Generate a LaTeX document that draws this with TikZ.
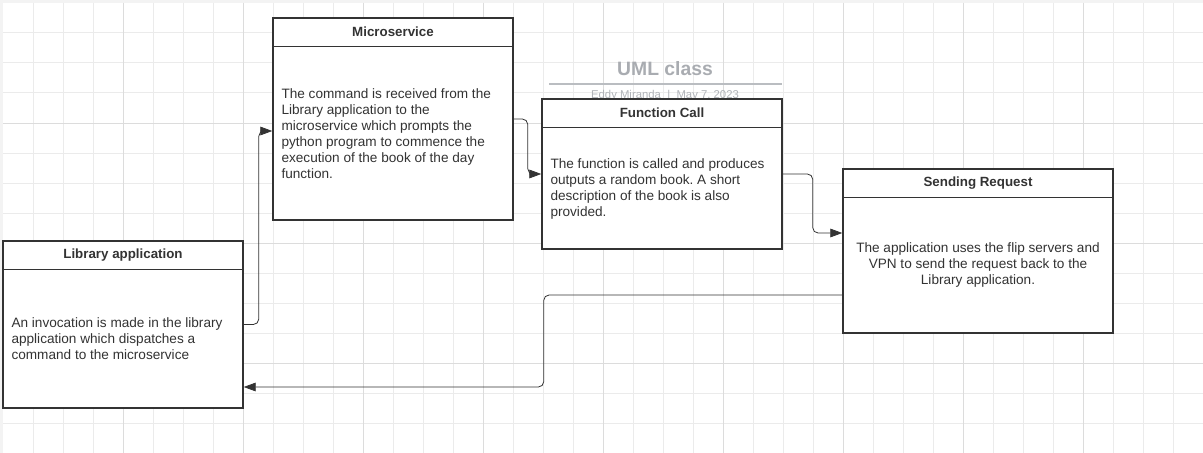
\documentclass[tikz,border=0pt]{standalone}
\usepackage{fontspec}
\setmainfont{Liberation Sans}
\usetikzlibrary{calc,arrows.meta}
\definecolor{trait}{HTML}{333333}
\definecolor{grille}{HTML}{EBEBEB}
\definecolor{grillefort}{HTML}{DCDCDC}
\definecolor{titregris}{HTML}{A9ACB1}
\frenchspacing

\begin{document}
\begin{tikzpicture}[x=0.75pt,y=-0.75pt]
\tikzset{boite/.style={draw=trait, line width=1.1pt, fill=white, inner sep=0pt},
  entete/.style={font=\bfseries\fontsize{10}{12}\selectfont, text=trait},
  corps/.style={font=\fontsize{10.2}{12}\selectfont, text=trait, inner sep=0pt},
  fleche/.style={draw=trait, line width=0.6pt, rounded corners=4pt, -{Triangle[length=9pt,width=6.5pt]}}}
\useasboundingbox (0,0) rectangle (1203,453);
\clip (0,0) rectangle (1203,453);
\fill[grille!60] (0,0) rectangle (1203,453);
\fill[white] (3,3) rectangle (1203,453);
\foreach \x in {33,63,...,1203} \draw[grille, line width=0.75pt] (\x,3) -- (\x,453);
\foreach \y in {33,63,...,453} \draw[grille, line width=0.75pt] (3,\y) -- (1203,\y);
\foreach \x in {123,243,...,1203} \draw[grillefort, line width=0.75pt] (\x,3) -- (\x,453);
\foreach \y in {123,243,...,453} \draw[grillefort, line width=0.75pt] (3,\y) -- (1203,\y);
% titre
\node[font=\bfseries\fontsize{14.5}{16}\selectfont, text=titregris] (T) at (665,69) {UML class};
\draw[titregris!80, line width=1.5pt] (549,84) -- (782,84);
\node[font=\fontsize{8.5}{10}\selectfont, text=titregris!90] (S) at (665,96) {Eddy Miranda \ |\ \ May 7, 2023};
% boites
\node[boite, minimum width=180pt, minimum height=125.25pt] (B1) at (123,324.5) {};
\node[boite, minimum width=180pt, minimum height=151.5pt] (B2) at (393,119) {};
\node[boite, minimum width=180pt, minimum height=112.5pt] (B3) at (662,174) {};
\node[boite, minimum width=202.5pt, minimum height=123pt] (B4) at (978,251) {};
\foreach \b in {B1,B2,B3,B4}
  \draw[trait, line width=1.1pt] ($(\b.north west)+(0,29)$) -- ($(\b.north east)+(0,29)$);
\node[entete] (H1) at ($(B1.north)+(0,14.5)$) {Library application};
\node[entete] (H2) at ($(B2.north)+(0,14.5)$) {Microservice};
\node[entete] (H3) at ($(B3.north)+(0,14.5)$) {Function Call};
\node[entete] (H4) at ($(B4.north)+(0,14.5)$) {Sending Request};
\node[corps, anchor=west, align=left] (C1) at ($(B1.west)+(9,14)$)
  {An invocation is made in the library\\application which dispatches a\\command to the microservice};
\node[corps, anchor=west, align=left] (C2) at ($(B2.west)+(9,14.5)$)
  {The command is received from the\\Library application to the\\microservice which prompts the\\python program to commence the\\execution of the book of the day\\function.};
\node[corps, anchor=west, align=left] (C3) at ($(B3.west)+(9,14.5)$)
  {The function is called and produces\\outputs a random book. A short\\description of the book is also\\provided.};
\node[corps, align=center] (C4) at ($(B4.center)+(0,14)$)
  {The application uses the flip servers and\\VPN to send the request back to the\\Library application.};
% liaisons
\coordinate (K) at ($(B1.east)+(300,62.5)$);
\draw[fleche] (B1.east) -- ($(B1.east)+(15,0)$) |- ($(B2.west)+(0,12)$);
\draw[fleche] (B2.east) -- ($(B2.east)+(14,0)$) |- (B3.west);
\draw[fleche] (B3.east) -- ($(B3.east)+(30,0)$) |- ($(B4.west)+(0,-18)$);
\draw[fleche] ($(B4.west)+(0,44)$) -| (K) -- ($(B1.east)+(0,62.5)$);
\end{tikzpicture}
\end{document}
